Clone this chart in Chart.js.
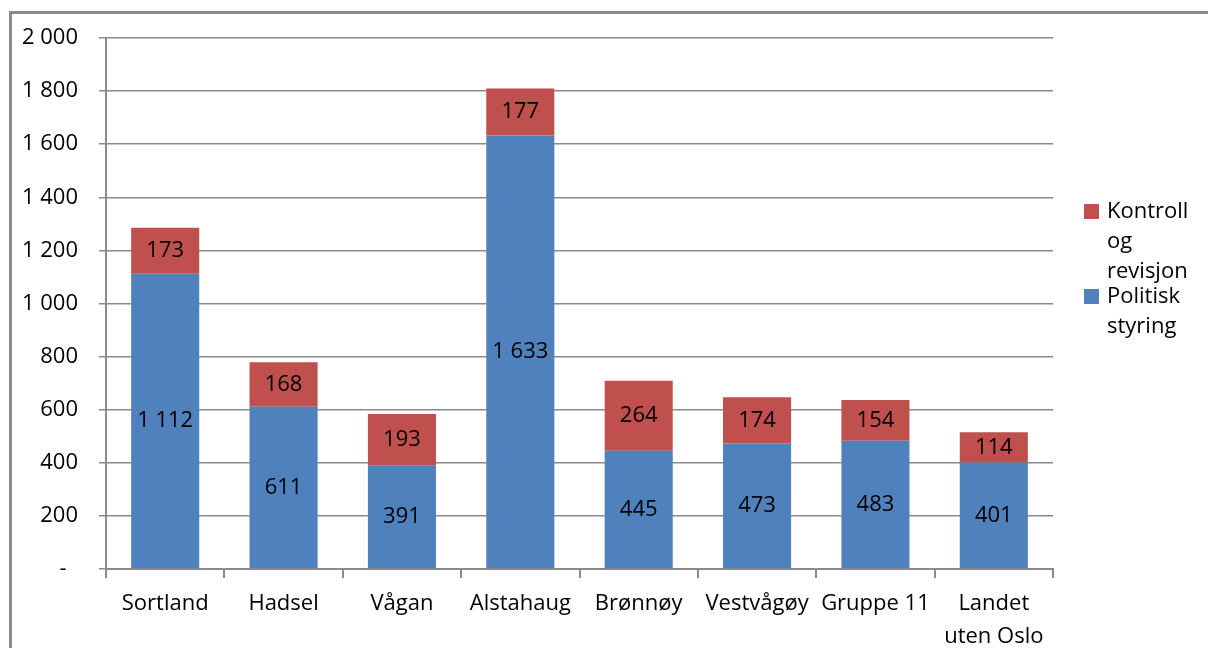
<!DOCTYPE html>
<html>
<head>
<meta charset="utf-8">
<script src="https://cdn.jsdelivr.net/npm/chart.js@4/dist/chart.umd.min.js"></script>
<style>
  html, body { margin: 0; padding: 0; background: #fff; overflow: hidden; }
  #wrap { position: relative; width: 1208px; height: 648px; }
  #frame { position: absolute; left: 9px; top: 11px; width: 1300px; height: 800px;
           border: 3px solid #8a8a8a; box-sizing: border-box; }
  canvas { position: absolute; left: 0; top: 0; }
</style>
</head>
<body>
<div id="wrap">
  <div id="frame"></div>
  <canvas id="chart" width="1208" height="648"></canvas>
</div>
<script>
// data
const categories = ["Sortland", "Hadsel", "Vågan", "Alstahaug", "Brønnøy", "Vestvågøy", "Gruppe 11", ["Landet", "uten Oslo"]];
const politiskStyring = [1112, 611, 391, 1633, 445, 473, 483, 401];
const kontrollRevisjon = [173, 168, 193, 177, 264, 174, 154, 114];
const yTicks = [0, 200, 400, 600, 800, 1000, 1200, 1400, 1600, 1800, 2000];

const FONT = "'Open Sans', 'Liberation Sans', sans-serif";
const SIZE = 22;
const BLUE = "#4f81bd";
const RED = "#c0504d";

function fmt(v) {
    if (v === 0) return "-  ";
    return String(v).replace(/\B(?=(\d{3})+(?!\d))/g, " ");
}

// value labels in the middle of every segment
const valueLabels = {
    id: "valueLabels",
    afterDatasetsDraw(chart) {
        const ctx = chart.ctx;
        ctx.save();
        ctx.font = SIZE + "px " + FONT;
        ctx.fillStyle = "#000";
        ctx.textAlign = "center";
        ctx.textBaseline = "middle";
        chart.data.datasets.forEach((ds, i) => {
            chart.getDatasetMeta(i).data.forEach((bar, j) => {
                const mid = (bar.y + bar.base) / 2;
                ctx.fillText(fmt(ds.data[j]), bar.x, mid);
            });
        });
        ctx.restore();
    }
};

// legend on the right, text wrapped like the original
const sideLegend = {
    id: "sideLegend",
    afterDraw(chart) {
        const ctx = chart.ctx;
        const items = [
            { color: RED, lines: ["Kontroll", "og", "revisjon"], y: 212 },
            { color: BLUE, lines: ["Politisk", "styring"], y: 297 }
        ];
        ctx.save();
        ctx.font = SIZE + "px " + FONT;
        ctx.textBaseline = "middle";
        ctx.textAlign = "left";
        items.forEach(it => {
            ctx.fillStyle = it.color;
            ctx.fillRect(1084, it.y - 8, 15, 15);
            ctx.fillStyle = "#000";
            it.lines.forEach((t, k) => ctx.fillText(t, 1107, it.y + k * 30));
        });
        ctx.restore();
    }
};

new Chart(document.getElementById("chart"), {
    type: "bar",
    data: {
        labels: categories,
        datasets: [
            { label: "Politisk styring", data: politiskStyring, backgroundColor: BLUE,
              categoryPercentage: 1, barPercentage: 0.575 },
            { label: "Kontroll og revisjon", data: kontrollRevisjon, backgroundColor: RED,
              categoryPercentage: 1, barPercentage: 0.575 }
        ]
    },
    options: {
        responsive: false,
        animation: false,
        layout: { padding: { top: 38, right: 155, left: 0, bottom: 0 } },
        plugins: { legend: { display: false }, tooltip: { enabled: false } },
        scales: {
            x: {
                stacked: true,
                grid: { drawOnChartArea: false, color: "#8a8a8a", tickLength: 9, lineWidth: 2 },
                border: { color: "#8a8a8a", width: 2 },
                ticks: { color: "#000", font: { family: FONT, size: SIZE, lineHeight: 1.5 }, padding: 9, maxRotation: 0, autoSkip: false },
                afterFit(scale) { scale.height = 79; }
            },
            y: {
                stacked: true,
                min: 0,
                max: 2000,
                afterBuildTicks(scale) { scale.ticks = yTicks.map(v => ({ value: v })); },
                grid: { color: "#8a8a8a", tickLength: 7, lineWidth: 1.5 },
                border: { color: "#8a8a8a", width: 2 },
                ticks: { color: "#000", font: { family: FONT, size: SIZE }, padding: 21, callback: v => fmt(v) },
                afterFit(scale) { scale.width = 106; }
            }
        }
    },
    plugins: [valueLabels, sideLegend]
});
</script>
</body>
</html>
